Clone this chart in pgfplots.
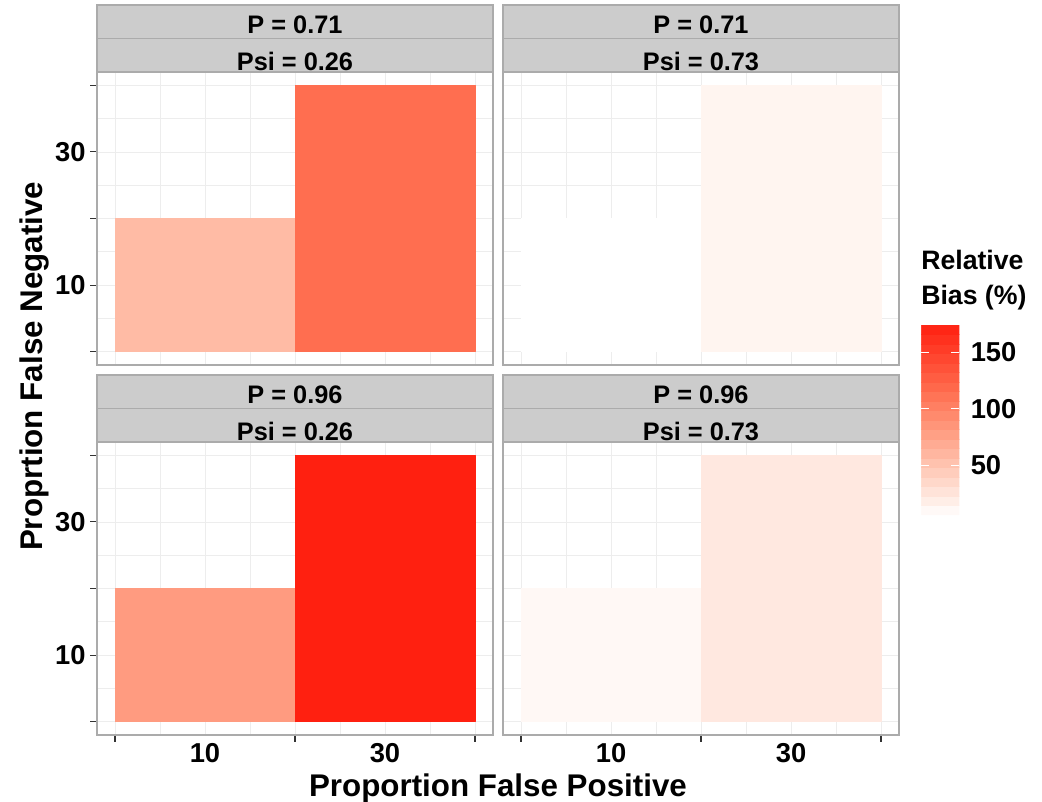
\documentclass[border=0pt]{standalone}
\usepackage{pgfplots}
\pgfplotsset{compat=1.18}
\usepackage{fontspec}
\setmainfont{Liberation Sans}
\definecolor{stripbg}{HTML}{CCCCCC}
\definecolor{stripln}{HTML}{ABABAB}
\definecolor{panelln}{HTML}{ABABAB}
\definecolor{gridc}{HTML}{EDEDED}
\definecolor{tickc}{HTML}{333333}
\newcommand{\tickfont}{\fontsize{20.5}{20.5}\selectfont\bfseries}
\newcommand{\stripfont}{\fontsize{19}{19}\selectfont\bfseries}
\newcommand{\titlefont}{\fontsize{23.5}{23.5}\selectfont\bfseries}
\newcommand{\legfont}{\fontsize{20}{20}\selectfont\bfseries}

\pgfplotsset{
  colormap={bias}{rgb255(0cm)=(255,255,255) rgb255(0.5cm)=(255,244,239) rgb255(1cm)=(255,232,224) rgb255(3.05cm)=(255,187,165) rgb255(4.46cm)=(255,155,128) rgb255(6.5cm)=(255,110,80) rgb255(10cm)=(255,32,16)},
  panel/.style={
    scale only axis, width=297pt, height=219.75pt,
    xmin=-2, xmax=42, ymin=-2, ymax=42,
    colormap name=bias, point meta min=6, point meta max=174,
    axis line style={draw=panelln, line width=0.8pt},
    xtick={0,20,40}, xticklabels={},
    ytick={0,10,20,30,40}, yticklabels={},
    minor xtick={0,5,...,40}, minor ytick={0,5,...,40},
    grid=both,
    major grid style={draw=gridc, line width=0.6pt},
    minor grid style={draw=gridc, line width=0.6pt},
    tick align=outside, major tick length=5pt, minor tick length=0pt,
    tick style={draw=tickc, line width=0.8pt},
    tick pos=left,
    ticklabel style={font=\tickfont, text=black},
    xticklabel style={yshift=-2.5pt},
    /pgf/number format/assume math mode=true,
  },
  noxticks/.style={xtick style={draw=none}},
  noyticks/.style={ytick style={draw=none}},
  xlab/.style={extra x ticks={10,30}, extra x tick labels={10,30},
    extra x tick style={major tick length=0pt, grid=none}},
  ylab/.style={yticklabels={,10,,30,}},
}
\newcommand{\strip}[3]{%
  \draw[fill=stripbg, draw=stripln, line width=0.8pt] (#1.north west) rectangle ([yshift=25.125pt]#1.north east);
  \draw[fill=stripbg, draw=stripln, line width=0.8pt] ([yshift=25.125pt]#1.north west) rectangle ([yshift=50.25pt]#1.north east);
  \node[font=\stripfont, anchor=base, inner sep=0pt] at ([yshift=29.25pt]#1.north) {#2};
  \node[font=\stripfont, anchor=base, inner sep=0pt] at ([yshift=1pt]#1.north) {#3};
}

\begin{document}
\begin{tikzpicture}
\useasboundingbox (0,0) rectangle (781.5pt,600.75pt);

% top-left
\begin{axis}[panel, noxticks, ylab, name=tl, at={(72.75pt,327pt)}, anchor=south west]
\addplot[patch, patch type=rectangle, shader=flat, point meta=\thisrow{c}] table {
x y c
0 0 57
20 0 57
20 20 57
0 20 57
20 0 115
40 0 115
40 40 115
20 40 115
};
\end{axis}
\strip{tl}{P = 0.71}{Psi = 0.26}

% top-right
\begin{axis}[panel, noxticks, noyticks, name=tr, at={(377.25pt,327pt)}, anchor=south west,
  colorbar sampled,
  colorbar style={
    at={(682.5pt,214.5pt)}, anchor=south west,
    scale only axis, width=28.5pt, height=142.5pt,
    samples=21,
    ytick={50,100,150}, yticklabels={50,100,150},
    yticklabel pos=right, ytick pos=both,
    tick align=inside, major tick length=6pt,
    ytick style={draw=white, line width=0.8pt},
    axis line style={draw=none},
    yticklabel style={font=\tickfont, text=black, xshift=5pt},
  }]
\addplot[patch, patch type=rectangle, shader=flat, point meta=\thisrow{c}] table {
x y c
0 0 6
20 0 6
20 20 6
0 20 6
20 0 14
40 0 14
40 40 14
20 40 14
};
\end{axis}
\strip{tr}{P = 0.71}{Psi = 0.73}

% bottom-left
\begin{axis}[panel, xlab, ylab, name=bl, at={(72.75pt,49.5pt)}, anchor=south west]
\addplot[patch, patch type=rectangle, shader=flat, point meta=\thisrow{c}] table {
x y c
0 0 81
20 0 81
20 20 81
0 20 81
20 0 174
40 0 174
40 40 174
20 40 174
};
\end{axis}
\strip{bl}{P = 0.96}{Psi = 0.26}

% bottom-right
\begin{axis}[panel, xlab, noyticks, name=br, at={(377.25pt,49.5pt)}, anchor=south west]
\addplot[patch, patch type=rectangle, shader=flat, point meta=\thisrow{c}] table {
x y c
0 0 11
20 0 11
20 20 11
0 20 11
20 0 23
40 0 23
40 40 23
20 40 23
};
\end{axis}
\strip{br}{P = 0.96}{Psi = 0.73}

% axis titles
\node[font=\titlefont, anchor=base, inner sep=0pt] at (373.5pt,3.75pt) {Proportion False Positive};
\node[font=\titlefont, anchor=base, inner sep=0pt, rotate=90] at (31.5pt,326pt) {Proprtion False Negative};

% legend title
\node[font=\legfont, anchor=base west, inner sep=0pt] at (690.75pt,398.25pt) {Relative};
\node[font=\legfont, anchor=base west, inner sep=0pt] at (690.75pt,372pt) {Bias (\%)};
\end{tikzpicture}
\end{document}
